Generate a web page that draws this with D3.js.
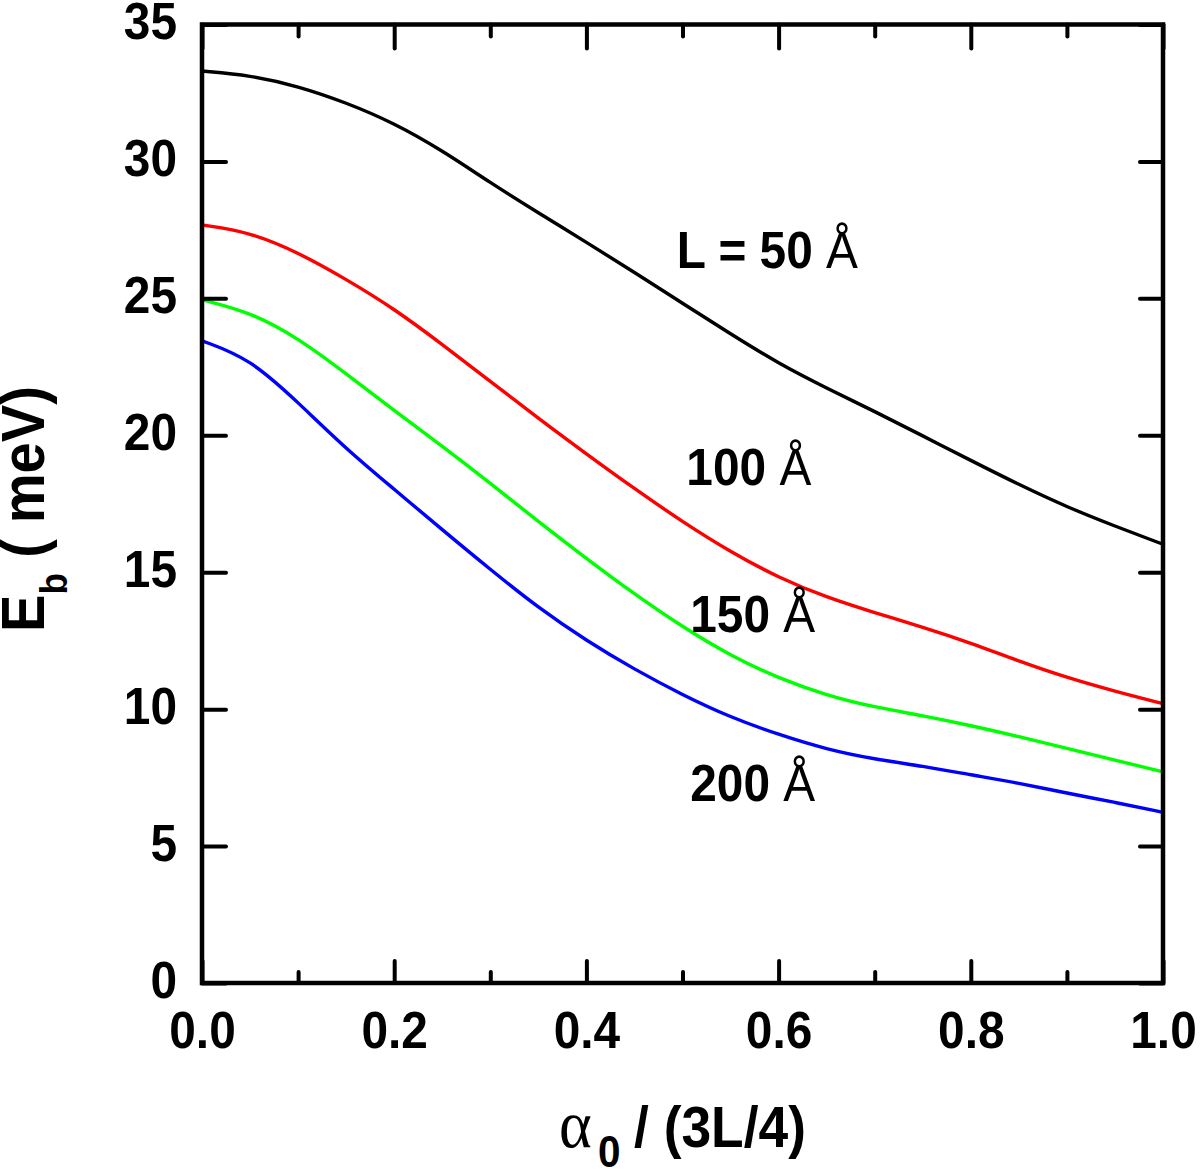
<!DOCTYPE html>
<html>
<head>
<meta charset="utf-8">
<script src="https://cdn.jsdelivr.net/npm/d3@7"></script>
<style>
  html, body { margin: 0; padding: 0; background: #fff; }
  svg { display: block; }
</style>
</head>
<body>
<svg id="chart" width="1200" height="1171"></svg>
<script>
// ---------------- data ----------------
const xValues = [0, 0.05, 0.1, 0.15, 0.2, 0.25, 0.3, 0.35, 0.4, 0.45, 0.5,
                 0.55, 0.6, 0.65, 0.7, 0.75, 0.8, 0.85, 0.9, 0.95, 1.0];
const eb50  = [33.3, 33.15, 32.75, 32.15, 31.4, 30.4, 29.22, 28.12, 27.05, 25.95, 24.82,
               23.7, 22.62, 21.72, 20.87, 19.98, 19.08, 18.2, 17.38, 16.68, 16.02];
const eb100 = [27.68, 27.42, 26.68, 25.7, 24.62, 23.32, 21.97, 20.62, 19.32, 18.05, 16.84,
               15.74, 14.8, 14.08, 13.52, 13.0, 12.42, 11.75, 11.15, 10.65, 10.2];
const eb150 = [24.95, 24.5, 23.55, 22.25, 20.9, 19.6, 18.25, 16.85, 15.5, 14.2, 13.0,
               11.95, 11.13, 10.5, 10.07, 9.76, 9.4, 9.0, 8.57, 8.14, 7.71];
const eb200 = [23.45, 22.8, 21.2, 19.5, 18.03, 16.55, 15.1, 13.7, 12.5, 11.45, 10.52,
               9.7, 9.07, 8.53, 8.17, 7.92, 7.6, 7.3, 6.93, 6.6, 6.23];
const seriesLabels = ["L = 50 ", "100 ", "150 ", "200 "];
const seriesColors = ["#000000", "#ff0000", "#00ff00", "#0000ff"];
const xMajorTicks = [0, 0.2, 0.4, 0.6, 0.8, 1.0];
const xMinorTicks = [0.1, 0.3, 0.5, 0.7, 0.9];
const yTicks = [0, 5, 10, 15, 20, 25, 30, 35];
// label anchor points (data space)
const labelX = [0.494, 0.504, 0.508, 0.508];
const labelY = [26.1, 18.2, 12.8, 6.65];

// ---------------- layout ----------------
const L = 202, R = 1163, T = 24.5, B = 983;
const SX = 0.92; // horizontal glyph compression
const svg = d3.select("#chart");
const x = d3.scaleLinear().domain([0, 1]).range([L, R]);
const y = d3.scaleLinear().domain([0, 35]).range([B, T]);
const FONT = "'Liberation Sans', Arial, Helvetica, sans-serif";

// curves
const series = [eb50, eb100, eb150, eb200];
const line = d3.line().x((d, i) => x(xValues[i])).y(d => y(d)).curve(d3.curveBasis);
svg.append("g").selectAll("path").data(series).join("path")
  .attr("d", d => line(d))
  .attr("fill", "none")
  .attr("stroke", (d, i) => seriesColors[i])
  .attr("stroke-width", 3.4)
  .attr("stroke-linejoin", "round");

// axes
function styleTicks(g) {
  g.select(".domain").remove();
  g.selectAll(".tick line").attr("stroke", "#000").attr("stroke-width", 4).attr("stroke-linecap", "round");
}
const gB = svg.append("g").attr("transform", `translate(0,${B})`)
  .call(d3.axisBottom(x).tickValues(xMajorTicks).tickSize(-22).tickFormat(d3.format(".1f")));
styleTicks(gB);
gB.attr("font-family", null).attr("font-size", null);
gB.selectAll(".tick text")
  .attr("y", null).attr("dy", null)
  .attr("transform", `translate(0,65) scale(${SX},1)`)
  .attr("text-anchor", "middle")
  .attr("font-family", FONT).attr("font-weight", "bold").attr("font-size", 52).attr("fill", "#000");

const gBm = svg.append("g").attr("transform", `translate(0,${B})`)
  .call(d3.axisBottom(x).tickValues(xMinorTicks).tickSize(-11).tickFormat(""));
styleTicks(gBm);

const gT = svg.append("g").attr("transform", `translate(0,${T})`)
  .call(d3.axisTop(x).tickValues(xMajorTicks).tickSize(-24).tickFormat(""));
styleTicks(gT);
const gTm = svg.append("g").attr("transform", `translate(0,${T})`)
  .call(d3.axisTop(x).tickValues(xMinorTicks).tickSize(-12).tickFormat(""));
styleTicks(gTm);

const gLft = svg.append("g").attr("transform", `translate(${L},0)`)
  .call(d3.axisLeft(y).tickValues(yTicks).tickSize(-24).tickFormat(d3.format("d")));
styleTicks(gLft);
gLft.attr("font-family", null).attr("font-size", null);
gLft.selectAll(".tick text")
  .attr("x", null).attr("dy", null)
  .attr("transform", `translate(-25,14) scale(${SX},1)`)
  .attr("text-anchor", "end")
  .attr("font-family", FONT).attr("font-weight", "bold").attr("font-size", 52).attr("fill", "#000");

const gR = svg.append("g").attr("transform", `translate(${R},0)`)
  .call(d3.axisRight(y).tickValues(yTicks).tickSize(-23).tickFormat(""));
styleTicks(gR);

// frame
svg.append("rect")
  .attr("x", L).attr("y", T).attr("width", R - L).attr("height", B - T)
  .attr("fill", "none").attr("stroke", "#000").attr("stroke-width", 4.5);

// curve labels
const lab = svg.append("g").selectAll("text").data(seriesLabels).join("text")
  .attr("transform", (d, i) => `translate(${x(labelX[i])},${y(labelY[i])}) scale(${SX},1)`)
  .attr("font-family", FONT).attr("font-size", 52).attr("fill", "#000");
lab.append("tspan").attr("font-weight", "bold").text(d => d);
lab.append("tspan").attr("font-weight", "normal").text("Å");

// y axis title
const yt = svg.append("text")
  .attr("transform", `translate(44,632) rotate(-90) scale(${SX},1)`)
  .attr("font-family", FONT).attr("font-weight", "bold").attr("fill", "#000");
yt.append("tspan").attr("font-size", 61).text("E");
yt.append("tspan").attr("font-size", 38).attr("dy", 23).text("b");
yt.append("tspan").attr("font-size", 61).attr("dy", -23).text(" ( meV)");

// x axis title
svg.append("text")
  .attr("transform", `translate(559,1147) scale(${SX},1)`)
  .attr("font-family", "'Liberation Serif', 'Times New Roman', serif")
  .attr("font-size", 68).attr("fill", "#000").text("α");
svg.append("text")
  .attr("transform", `translate(598,1167) scale(${SX},1)`)
  .attr("font-family", FONT).attr("font-weight", "bold")
  .attr("font-size", 44).attr("fill", "#000").text("0");
svg.append("text")
  .attr("transform", `translate(634,1147) scale(${SX},1)`)
  .attr("font-family", FONT).attr("font-weight", "bold")
  .attr("font-size", 58).attr("fill", "#000").text("/ (3L/4)");
</script>
</body>
</html>
